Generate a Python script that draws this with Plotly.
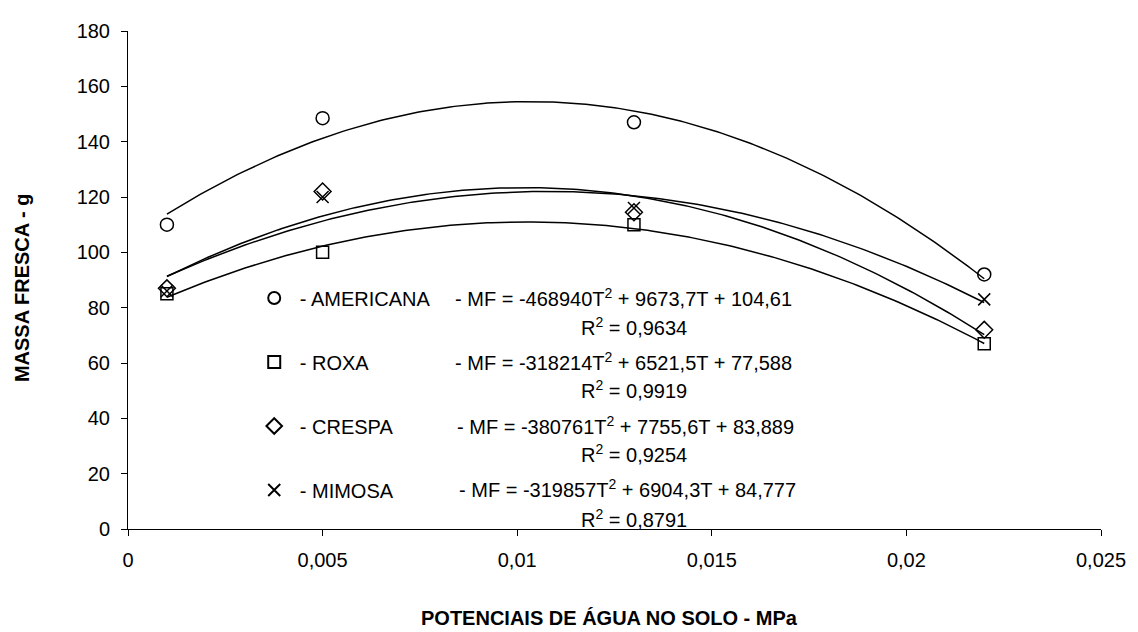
import numpy as np
import plotly.graph_objects as go

# ---- data ----
potenciais = [0.001, 0.005, 0.013, 0.022]
cultivares = ["AMERICANA", "ROXA", "CRESPA", "MIMOSA"]
americana = [110, 148.5, 147, 92]
roxa = [85, 100, 110, 67]
crespa = [87, 122, 114.5, 72]
mimosa = [86, 120, 116, 83]
# trendline coefficients (a*T^2 + b*T + c) as printed in the chart
coef_a = [-468940, -318214, -380761, -319857]
coef_b = [9673.7, 6521.5, 7755.6, 6904.3]
coef_c = [104.61, 77.588, 83.889, 84.777]
equacoes = ["-468940T<sup>2</sup> + 9673,7T + 104,61",
            "-318214T<sup>2</sup> + 6521,5T + 77,588",
            "-380761T<sup>2</sup> + 7755,6T + 83,889",
            "-319857T<sup>2</sup> + 6904,3T + 84,777"]
r2 = ["0,9634", "0,9919", "0,9254", "0,8791"]
x_tickvals = [0, 0.005, 0.01, 0.015, 0.02, 0.025]
x_ticktext = ["0", "0,005", "0,01", "0,015", "0,02", "0,025"]
y_tickvals = [0, 20, 40, 60, 80, 100, 120, 140, 160, 180]

series = [americana, roxa, crespa, mimosa]
symbols = ["circle-open", "square-open", "diamond-open", "x-thin-open"]
sizes = [13, 12, 13, 12]

# page has an 8px body margin; figure sized to fit the window
OFF = 8
W, H = 1130, 624
L, R, T, B = 120, 31, 18, 103
PW, PH = W - L - R, H - T - B
FONT = "Liberation Sans, Arial, sans-serif"
FS = 20

def px(x):  # screen x -> paper
    return (x - OFF - L) / PW

def py(y):  # screen y -> paper
    return (H - B - (y - OFF)) / PH

fig = go.Figure()

tt = np.linspace(min(potenciais), max(potenciais), 200)
for i in range(4):
    yy = coef_a[i] * tt**2 + coef_b[i] * tt + coef_c[i]
    fig.add_trace(go.Scatter(x=tt, y=yy, mode="lines",
                             line=dict(color="black", width=1.5),
                             showlegend=False, hoverinfo="skip"))

for i in range(4):
    fig.add_trace(go.Scatter(
        x=potenciais, y=series[i], mode="markers",
        name="\u00a0- " + cultivares[i],
        legendgroup=cultivares[i],
        marker=dict(symbol=symbols[i], size=sizes[i], color="black",
                    line=dict(color="black", width=1.5)),
    ))

eq_rows = [295, 360, 424, 488]
r2_rows = [324, 388, 453, 518]
eq_x = [455, 455, 457, 459]
for i in range(4):
    fig.add_annotation(xref="paper", yref="paper", x=px(eq_x[i]), y=py(eq_rows[i]),
                       xanchor="left", yanchor="middle", showarrow=False,
                       text="- MF = " + equacoes[i],
                       font=dict(family=FONT, size=FS, color="black"))
    fig.add_annotation(xref="paper", yref="paper", x=px(637), y=py(r2_rows[i]),
                       xanchor="center", yanchor="middle", showarrow=False,
                       text="R<sup>2</sup> = " + r2[i],
                       font=dict(family=FONT, size=FS, color="black"))

# axis titles
fig.add_annotation(xref="paper", yref="paper", x=px(612), y=py(619),
                   xanchor="center", yanchor="middle", showarrow=False,
                   text="<b>POTENCIAIS DE ÁGUA NO SOLO - MPa</b>",
                   font=dict(family=FONT, size=FS, color="black"))
fig.add_annotation(xref="paper", yref="paper", x=px(22), y=py(285),
                   xanchor="center", yanchor="middle", showarrow=False,
                   textangle=-90,
                   text="<b>MASSA FRESCA - g</b>",
                   font=dict(family=FONT, size=FS, color="black"))

fig.update_layout(
    width=W, height=H,
    margin=dict(l=L, r=R, t=T, b=B),
    paper_bgcolor="white", plot_bgcolor="white",
    font=dict(family=FONT, size=FS, color="black"),
    showlegend=True,
    legend=dict(x=px(255), y=py(276), xanchor="left", yanchor="top",
                bgcolor="rgba(0,0,0,0)", borderwidth=0,
                tracegroupgap=35, itemsizing="constant",
                font=dict(family=FONT, size=FS, color="black")),
    xaxis=dict(range=[0, 0.025], tickvals=x_tickvals, ticktext=x_ticktext,
               showgrid=False, zeroline=False, showline=True,
               linecolor="black", linewidth=1, ticks="outside", ticklen=6,
               tickcolor="black", ticklabelstandoff=7,
               tickfont=dict(family=FONT, size=FS, color="black")),
    yaxis=dict(range=[0, 180], tickvals=y_tickvals,
               showgrid=False, zeroline=False, showline=True,
               linecolor="black", linewidth=1, ticks="outside", ticklen=6,
               tickcolor="black", ticklabelstandoff=7,
               tickfont=dict(family=FONT, size=FS, color="black")),
)

fig.write_html("out.html")
